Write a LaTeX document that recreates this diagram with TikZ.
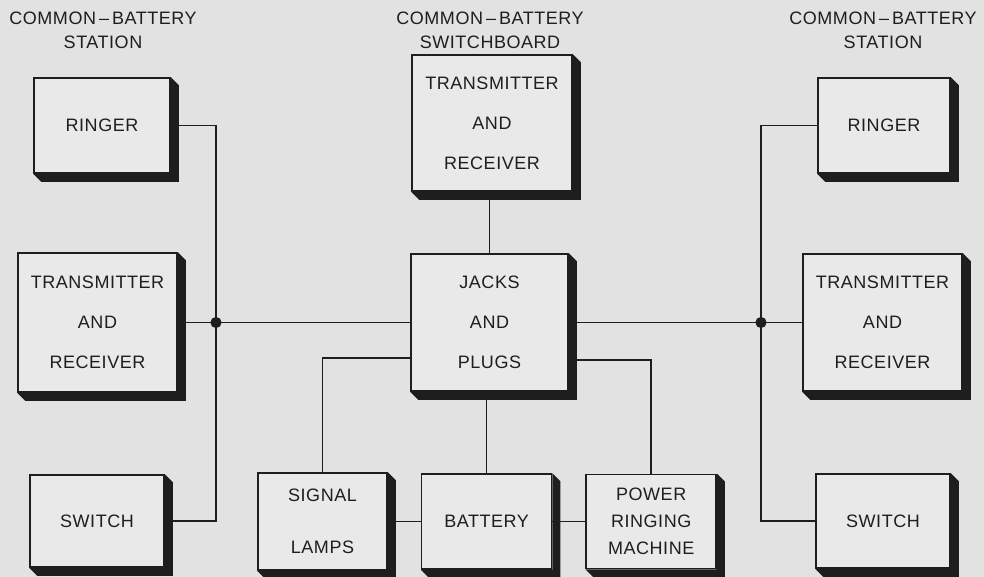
\documentclass[tikz,border=0pt]{standalone}
\usepackage{fontspec}
\setmainfont{Liberation Sans}[LetterSpace=3]
\usetikzlibrary{positioning}
\definecolor{PaperGray}{HTML}{E2E2E2}
\definecolor{CardGray}{HTML}{E9E9E9}
\definecolor{InkBlack}{HTML}{1E1E1E}
\newcommand{\boxfont}{\fontsize{12.8}{28.4}\selectfont}
\newcommand{\tightfont}{\fontsize{12.8}{19}\selectfont}
\newcommand{\titlefont}{\fontsize{12.8}{17}\selectfont}

\begin{document}
\begin{tikzpicture}[x=0.025cm,y=-0.025cm,
  unit/.style={draw=InkBlack,line width=1.1pt,fill=CardGray,text=InkBlack,align=center,font=\boxfont,inner sep=0pt},
  heading/.style={align=center,font=\titlefont,text=InkBlack},
  wire/.style={draw=InkBlack,line width=1pt}]
  \fill[PaperGray] (0,0) rectangle (984,577);
  \useasboundingbox (0,0) rectangle (984,577);

  % headings
  \node[heading] (headL) at (103,30) {COMMON\,--\,BATTERY\\STATION};
  \node[heading] (headC) at (490,30) {COMMON\,--\,BATTERY\\SWITCHBOARD};
  \node[heading] (headR) at (883,30) {COMMON\,--\,BATTERY\\STATION};

  % left station
  \node[unit,minimum width=3.4cm,minimum height=2.375cm] (ringL) at (102,125.5) {RINGER};
  \node[unit,minimum width=3.975cm,minimum height=3.475cm] (trL) at (97.5,322.5) {TRANSMITTER\\AND\\RECEIVER};
  \node[unit,minimum width=3.35cm,minimum height=2.3cm] (swL) at (97,521) {SWITCH};

  % switchboard
  \node[unit,minimum width=4.0cm,minimum height=3.4cm] (trC) at (492,123) {TRANSMITTER\\AND\\RECEIVER};
  \node[unit,minimum width=3.925cm,minimum height=3.425cm] (jacks) at (489.5,322.5) {JACKS\\AND\\PLUGS};
  \node[unit,minimum width=3.225cm,minimum height=2.425cm] (sig) at (322.5,521.5) {SIGNAL\\[8.6pt]LAMPS};
  \node[unit,minimum width=3.25cm,minimum height=2.375cm,right=0.825cm of sig] (bat) {BATTERY};
  \node[unit,minimum width=3.25cm,minimum height=2.35cm,right=0.825cm of bat,font=\tightfont] (prm) {POWER\\RINGING\\MACHINE};

  % right station
  \node[unit,minimum width=3.3cm,minimum height=2.375cm] (ringR) at (884,125.5) {RINGER};
  \node[unit,minimum width=3.975cm,minimum height=3.425cm] (trR) at (882.5,322.5) {TRANSMITTER\\AND\\RECEIVER};
  \node[unit,minimum width=3.35cm,minimum height=2.35cm] (swR) at (883,521) {SWITCH};

  % junctions
  \coordinate (dotL) at (216,322.5);
  \coordinate (dotR) at (761,322.5);

  % wiring
  \draw[wire] (trL.east) -- (jacks.west);
  \draw[wire] (ringL.east) -| (dotL);
  \draw[wire] (swL.east) -| (dotL);
  \draw[wire] (jacks.east) -- (trR.west);
  \draw[wire] (ringR.west) -| (dotR);
  \draw[wire] (swR.west) -| (dotR);
  \draw[wire] (jacks.north) -- (jacks.north |- trC.south);
  \draw[wire] (jacks.west |- 0,358) -| (sig.north);
  \draw[wire] (jacks.east |- 0,360) -| (prm.north);
  \draw[wire] (bat.north) -- (bat.north |- jacks.south);
  \draw[wire] (sig.east) -- (bat.west);
  \draw[wire] (bat.east) -- (prm.west);
  \fill[InkBlack] (dotL) circle (0.14cm);
  \fill[InkBlack] (dotR) circle (0.14cm);

  % raised edges of the boxes
  \foreach \n in {ringL,trL,swL,trC,jacks,sig,bat,prm,ringR,trR,swR}
    \fill[InkBlack] (\n.north east) -- ++(8,8) -- ([shift={(8,8)}]\n.south east)
      -- ([shift={(8,8)}]\n.south west) -- (\n.south west) -- (\n.south east) -- cycle;
\end{tikzpicture}
\end{document}
